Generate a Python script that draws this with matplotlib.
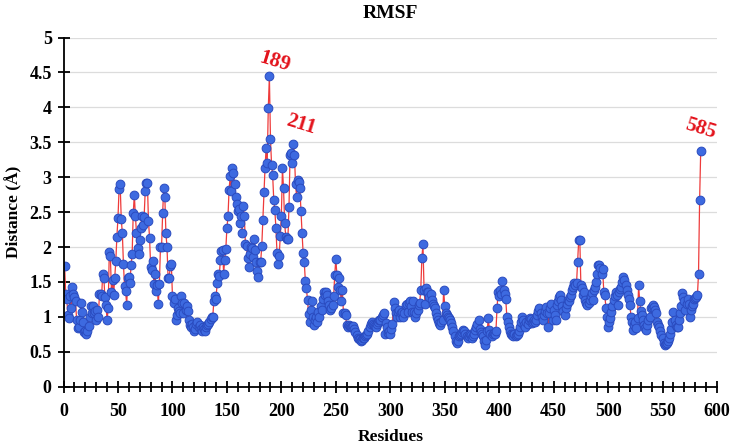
import matplotlib
matplotlib.use("Agg")
import matplotlib.pyplot as plt
import numpy as np
from matplotlib.ticker import MultipleLocator

# RMSF per residue (1..585)
rmsf = [
    1.73, 1.33, 1.25, 1.03, 0.98, 1.30, 1.12, 1.43, 1.33, 1.28,
    1.22, 0.96, 0.84, 0.85, 0.95, 1.20, 1.07, 0.92, 0.78, 0.80,
    0.76, 0.80, 0.87, 1.00, 1.16, 1.06, 1.15, 1.05, 1.08, 0.95,
    1.10, 1.00, 1.33, 1.32, 1.30, 1.62, 1.56, 1.28, 1.17, 0.95,
    1.12, 1.93, 1.87, 1.36, 1.53, 1.31, 1.56, 1.80, 2.15, 2.42,
    2.83, 2.90, 2.40, 2.20, 1.76, 1.44, 1.37, 1.17, 1.55, 1.57,
    1.48, 1.74, 1.90, 2.48, 2.75, 2.44, 2.20, 1.99, 1.90, 2.10,
    2.27, 2.45, 2.32, 2.43, 2.80, 2.92, 2.92, 2.37, 2.13, 1.72,
    1.67, 1.80, 1.47, 1.62, 1.37, 1.45, 1.18, 1.47, 2.00, 2.00,
    2.48, 2.85, 2.72, 2.20, 2.00, 1.56, 1.56, 1.73, 1.75, 1.30,
    1.20, 1.25, 0.96, 1.03, 1.13, 1.08, 1.05, 1.30, 1.20, 1.05,
    1.20, 1.10, 1.15, 1.08, 0.96, 0.88, 0.86, 0.90, 0.85, 0.80,
    0.83, 0.90, 0.92, 0.85, 0.88, 0.82, 0.80, 0.86, 0.82, 0.80,
    0.85, 0.88, 0.90, 0.93, 0.97, 1.00, 1.00, 1.22, 1.30, 1.25,
    1.48, 1.62, 1.58, 1.82, 1.95, 1.96, 1.62, 1.82, 1.97, 2.27,
    2.44, 2.82, 3.01, 2.80, 3.13, 3.06, 2.90, 2.72, 2.62, 2.51,
    2.55, 2.34, 2.44, 2.20, 2.59, 2.44, 2.04, 2.02, 1.84, 1.72,
    1.90, 2.00, 1.98, 1.85, 2.12, 1.96, 1.79, 1.66, 1.57, 1.79,
    1.79, 2.01, 2.39, 2.79, 3.13, 3.42, 3.20, 3.99, 4.45, 3.55,
    3.18, 3.03, 2.68, 2.53, 2.27, 1.92, 1.76, 1.87, 2.16, 2.45,
    3.13, 2.84, 2.35, 2.15, 2.12, 2.12, 2.58, 3.32, 3.34, 3.20,
    3.48, 3.32, 2.90, 2.72, 2.96, 2.93, 2.84, 2.51, 2.20, 1.91,
    1.79, 1.52, 1.41, 1.24, 1.04, 0.93, 1.10, 1.22, 1.00, 0.88,
    0.95, 1.00, 0.92, 1.07, 1.00, 1.15, 1.10, 1.25, 1.36, 1.31,
    1.36, 1.31, 1.22, 1.17, 1.10, 1.13, 1.17, 1.30, 1.60, 1.83,
    1.60, 1.43, 1.55, 1.39, 1.22, 1.39, 1.05, 1.05, 1.02, 0.88,
    0.86, 0.88, 0.87, 0.86, 0.85, 0.87, 0.82, 0.78, 0.74, 0.70,
    0.68, 0.68, 0.66, 0.67, 0.69, 0.70, 0.72, 0.74, 0.76, 0.80,
    0.86, 0.90, 0.93, 0.90, 0.88, 0.87, 0.86, 0.90, 0.93, 0.95,
    0.96, 1.00, 1.02, 1.05, 0.76, 0.91, 0.85, 0.77, 0.80, 0.75,
    0.82, 0.90, 1.21, 1.12, 1.05, 1.00, 1.07, 1.10, 1.00, 1.05,
    1.07, 1.00, 1.05, 1.17, 1.19, 1.07, 1.20, 1.23, 1.15, 1.07,
    1.23, 1.07, 1.00, 1.06, 1.10, 1.17, 1.20, 1.39, 1.84, 2.04,
    1.39, 1.18, 1.41, 1.35, 1.36, 1.29, 1.32, 1.24, 1.19, 1.15,
    1.12, 1.05, 1.00, 0.96, 0.91, 0.89, 0.93, 0.96, 1.39, 1.15,
    1.05, 1.03, 1.00, 0.98, 0.95, 0.91, 0.85, 0.79, 0.72, 0.65,
    0.62, 0.66, 0.72, 0.74, 0.76, 0.78, 0.81, 0.79, 0.76, 0.72,
    0.69, 0.72, 0.76, 0.74, 0.70, 0.72, 0.76, 0.81, 0.85, 0.90,
    0.96, 0.83, 0.78, 0.75, 0.72, 0.66, 0.60, 0.67, 0.80, 0.98,
    0.81, 0.76, 0.73, 0.75, 0.77, 0.76, 0.80, 1.12, 1.36, 1.30,
    1.39, 1.33, 1.51, 1.39, 1.32, 1.26, 1.00, 0.92, 0.85, 0.79,
    0.76, 0.74, 0.73, 0.75, 0.72, 0.74, 0.76, 0.80, 0.86, 0.92,
    1.00, 0.95, 0.88, 0.86, 0.93, 0.90, 0.95, 0.98, 0.97, 0.91,
    0.93, 0.95, 0.93, 0.96, 1.02, 1.08, 1.12, 1.05, 1.00, 0.96,
    1.02, 1.08, 1.14, 1.05, 0.86, 1.05, 1.12, 1.19, 0.95, 1.10,
    1.02, 0.95, 1.17, 1.22, 1.28, 1.31, 1.24, 1.15, 1.08, 1.03,
    1.12, 1.18, 1.24, 1.22, 1.28, 1.31, 1.38, 1.43, 1.48, 1.46,
    1.48, 1.79, 2.10, 2.10, 1.45, 1.41, 1.31, 1.36, 1.24, 1.20,
    1.17, 1.20, 1.24, 1.30, 1.34, 1.24, 1.38, 1.43, 1.50, 1.62,
    1.74, 1.74, 1.70, 1.62, 1.68, 1.36, 1.31, 1.12, 1.00, 0.86,
    0.93, 0.98, 1.07, 1.15, 1.24, 1.30, 1.36, 1.31, 1.17, 1.36,
    1.40, 1.43, 1.50, 1.57, 1.53, 1.45, 1.38, 1.31, 1.25, 1.17,
    1.00, 0.93, 0.81, 0.88, 0.93, 0.84, 0.98, 1.45, 1.22, 1.08,
    1.03, 0.95, 0.88, 0.84, 0.81, 0.88, 0.95, 1.00, 1.12, 1.14,
    1.17, 1.14, 1.10, 1.05, 0.93, 0.88, 0.86, 0.79, 0.74, 0.69,
    0.62, 0.60, 0.61, 0.63, 0.66, 0.69, 0.75, 0.82, 0.93, 1.07,
    0.95, 0.88, 0.86, 0.86, 0.95, 1.05, 1.15, 1.34, 1.29, 1.22,
    1.10, 1.18, 1.26, 1.19, 1.00, 1.10, 1.15, 1.19, 1.25, 1.27,
    1.29, 1.31, 1.62, 2.67, 3.37,
]
residues = np.arange(1, len(rmsf) + 1)

peak_ids = [189, 211, 585]
peak_text_offset = [(5, 0.2), (7, 0.27), (0, 0.33)]

SERIF = "Liberation Serif"


def main():
    fig = plt.figure(figsize=(7.31, 4.47), dpi=100)
    ax = fig.add_axes([0.0869, 0.135, 0.894, 0.781])

    ax.plot(residues, rmsf, color="#ee3b3b", lw=0.9, zorder=2)
    ax.plot(residues, rmsf, ls="none", marker="o", ms=6.3,
            mfc="#3d6ae0", mec="#2a4bbf", mew=0.7, zorder=3)

    for pid, (dx, dy) in zip(peak_ids, peak_text_offset):
        ax.text(pid + dx, rmsf[pid - 1] + dy, str(pid), color="#e3121b",
                fontsize=15, fontweight="bold",
                family=SERIF, rotation=-17, ha="center", va="center",
                zorder=4)

    ax.set_xlim(0, 600)
    ax.set_ylim(0, 5)
    ax.xaxis.set_major_locator(MultipleLocator(50))
    ax.xaxis.set_minor_locator(MultipleLocator(10))
    ax.set_yticks(np.arange(0, 5.01, 0.5))
    ax.set_yticklabels(["0", "0.5", "1", "1.5", "2", "2.5", "3", "3.5",
                        "4", "4.5", "5"])

    ax.grid(axis="y", color="#dcdcdc", lw=0.9, zorder=0)
    ax.set_axisbelow(True)
    for s in ["top", "right"]:
        ax.spines[s].set_visible(False)
    for s in ["left", "bottom"]:
        ax.spines[s].set_linewidth(1.3)
        ax.spines[s].set_zorder(5)

    ax.tick_params(axis="both", which="major", direction="inout",
                   length=9, width=1.3, pad=4)
    ax.tick_params(axis="x", which="minor", direction="inout",
                   length=7, width=1.3)
    ax.tick_params(axis="x", which="major", pad=7)
    for lab in ax.get_xticklabels() + ax.get_yticklabels():
        lab.set_family(SERIF)
        lab.set_fontweight("bold")
        lab.set_fontsize(13)

    ax.set_xlabel("Residues", family=SERIF, fontweight="bold",
                  fontsize=12.5, labelpad=7)
    ax.set_ylabel("Distance (Å)", family=SERIF, fontweight="bold",
                  fontsize=12.5, labelpad=5)
    ax.set_title("RMSF", family=SERIF, fontweight="bold", fontsize=14,
                 pad=14)

    fig.savefig("out.png", dpi=100)
    plt.close(fig)


if __name__ == "__main__":
    main()
